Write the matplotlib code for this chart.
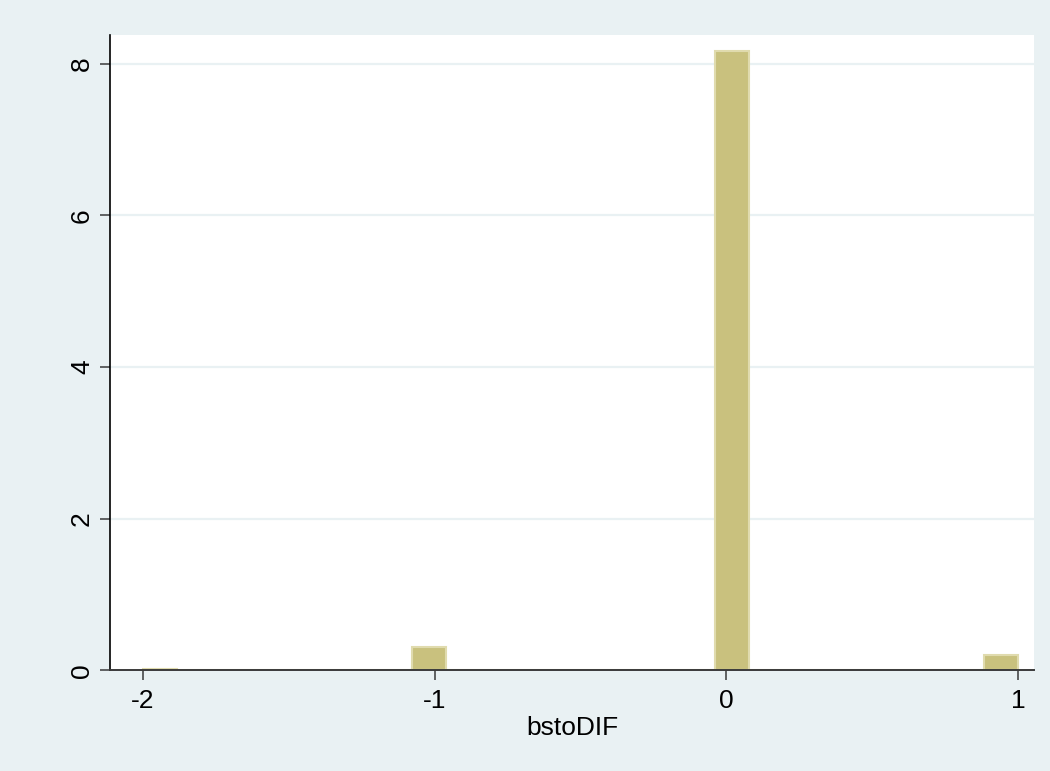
import numpy as np
import matplotlib.pyplot as plt

plt.rcParams['font.family'] = ['Liberation Sans', 'DejaVu Sans']

# histogram of bstoDIF: 26 bins between min and max
x_min, x_max = -2, 1
n_bins = 26
density = [0.02, 0, 0, 0, 0, 0, 0, 0, 0.31, 0, 0, 0, 0,
           0, 0, 0, 0, 8.17, 0, 0, 0, 0, 0, 0, 0, 0.20]
xticks = [-2, -1, 0, 1]
yticks = [0, 2, 4, 6, 8]
xlabel = 'bstoDIF'

bg = '#E9F1F3'
edges = np.linspace(x_min, x_max, n_bins + 1)

fig = plt.figure(figsize=(10.5, 7.71), dpi=100, facecolor=bg)
ax = fig.add_axes([0.1048, 0.1304, 0.88, 0.8246])
ax.set_facecolor('white')

for y in yticks[1:]:
    ax.axhline(y, color=bg, linewidth=1.6, zorder=1)

ax.bar(edges[:-1], density, width=np.diff(edges), align='edge',
       color='#C9C17E', edgecolor='#E0DBAE', linewidth=1.5, zorder=2)

ax.set_xlim(-2.113, 1.055)
ax.set_ylim(0, 8.38)
ax.set_xticks(xticks)
ax.set_xticklabels([str(t) for t in xticks])
ax.set_yticks(yticks)
ax.set_yticklabels([str(t) for t in yticks], rotation=90, va='center')

for s in ['top', 'right']:
    ax.spines[s].set_visible(False)
ax.spines['left'].set_color('black')
ax.spines['left'].set_linewidth(1.2)
ax.spines['bottom'].set_color('#3a3a3a')
ax.spines['bottom'].set_linewidth(1.4)

ax.tick_params(axis='both', labelsize=19, length=7.5, width=1.1, colors='#3a3a3a',
               labelcolor='black')
ax.tick_params(axis='x', pad=6)
ax.tick_params(axis='y', pad=4)
ax.set_xlabel(xlabel, fontsize=19, labelpad=2)

plt.savefig('out.png', dpi=100, facecolor=bg)
